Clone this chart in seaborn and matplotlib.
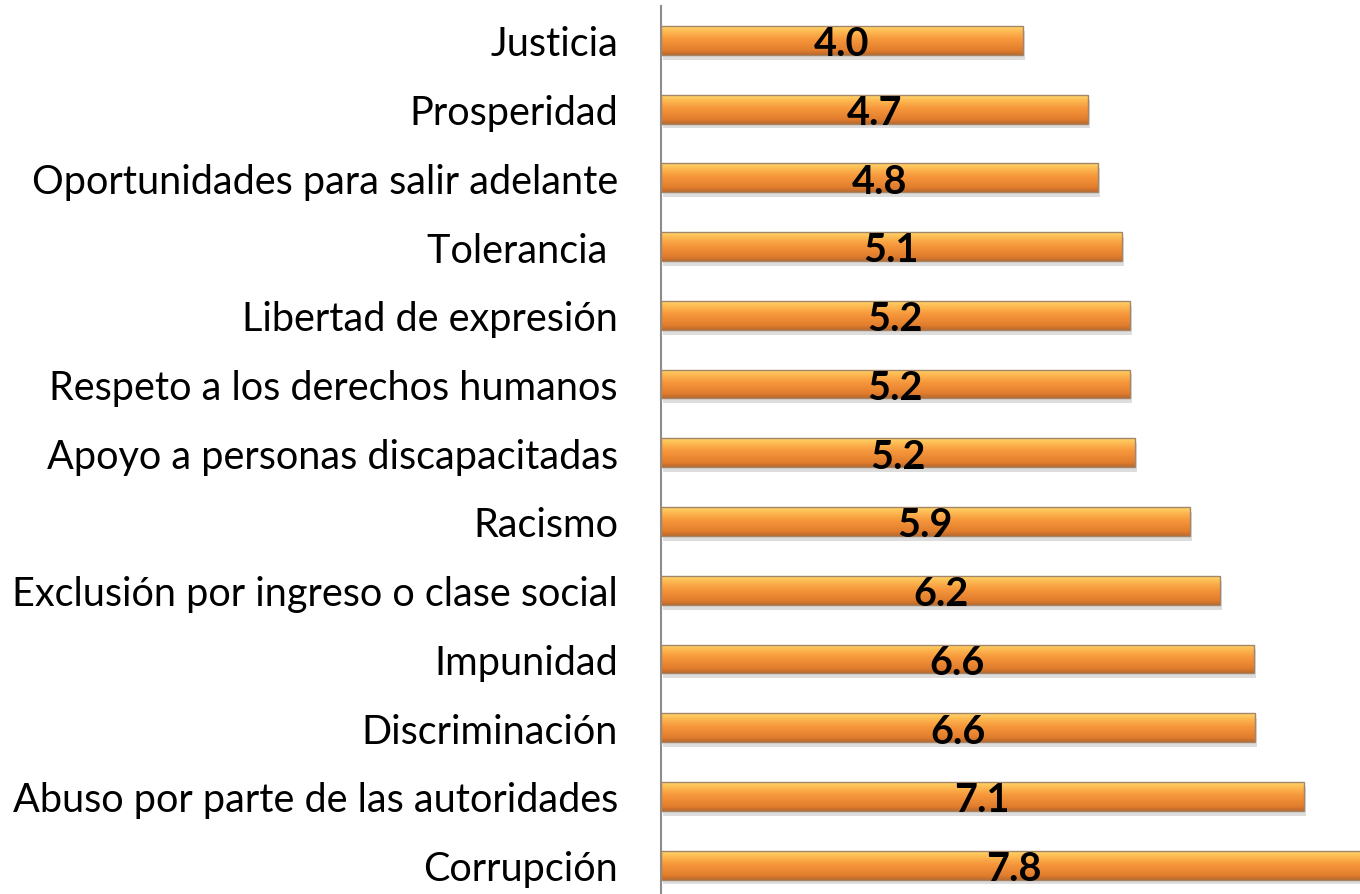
import numpy as np
import pandas as pd
import matplotlib
matplotlib.use("Agg")
import matplotlib.pyplot as plt
import matplotlib.colors as mcolors
import matplotlib.patheffects as pe
from matplotlib.patches import Rectangle
import seaborn as sns

categories = [
    "Justicia", "Prosperidad", "Oportunidades para salir adelante", "Tolerancia ",
    "Libertad de expresión", "Respeto a los derechos humanos",
    "Apoyo a personas discapacitadas", "Racismo",
    "Exclusión por ingreso o clase social", "Impunidad", "Discriminación",
    "Abuso por parte de las autoridades", "Corrupción",
]
values = [4.0, 4.7, 4.8, 5.1, 5.2, 5.2, 5.2, 5.9, 6.2, 6.6, 6.6, 7.1, 7.8]
# exact lengths drawn (labels are rounded)
lengths = [4.0, 4.72, 4.83, 5.09, 5.18, 5.18, 5.24, 5.84, 6.18, 6.55, 6.56, 7.1, 7.8]

sns.set_theme(style="white")
plt.rcParams["font.family"] = ["Lato", "DejaVu Sans"]

df = pd.DataFrame({"cat": categories, "len": lengths, "val": values})

fig = plt.figure(figsize=(13.6, 8.95), dpi=100)
ax = fig.add_axes([661 / 1360, 0.0, 1 - 661 / 1360, (895 - 7) / 895])

sns.barplot(data=df, y="cat", x="len", orient="h", color="#F08A30",
            width=0.42, ax=ax, zorder=2)

cmap = mcolors.LinearSegmentedColormap.from_list(
    "g", [(0.0, "#FFD96E"), (0.18, "#FDBA52"), (0.45, "#F7983C"),
          (0.85, "#E07C2C"), (1.0, "#B8682E")])
grad = np.linspace(0, 1, 256).reshape(-1, 1)

for p, v in zip(ax.patches, values):
    x0, y0 = p.get_x(), p.get_y()
    w, h = p.get_width(), p.get_height()
    p.set_edgecolor("none")
    p.set_path_effects([pe.SimplePatchShadow(offset=(1.5, -3.5),
                                             shadow_rgbFace="#b5b5b5", alpha=0.45),
                        pe.Normal()])
    im = ax.imshow(grad, extent=[x0, x0 + w, y0 + h, y0], aspect="auto",
                   cmap=cmap, zorder=2.5, interpolation="bilinear")
    im.set_clip_path(p)
    ax.add_patch(Rectangle((x0, y0), w, h, fill=False, edgecolor="#A58567",
                           linewidth=1.0, zorder=3))
    ax.text(x0 + w / 2, y0 + h / 2 + 0.05, f"{v:.1f}", ha="center", va="center",
            fontsize=28.5, fontweight="bold", color="black", zorder=4)

ax.set_xlim(0, (1360 - 661) / 90.5)
ax.set_ylim(12.42, -0.5)
ax.set_xlabel("")
ax.set_ylabel("")
ax.set_xticks([])
ax.tick_params(axis="y", length=0, pad=31, labelsize=28.5, labelcolor="black")
for s in ["top", "right", "bottom"]:
    ax.spines[s].set_visible(False)
ax.spines["left"].set_color("#8c8c8c")
ax.spines["left"].set_linewidth(1.5)
ax.set_facecolor("white")

fig.savefig("out.png", dpi=100)
